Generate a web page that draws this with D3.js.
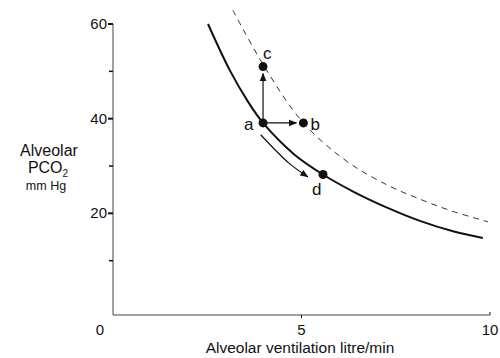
<!DOCTYPE html>
<html>
<head>
<meta charset="utf-8">
<script src="https://cdn.jsdelivr.net/npm/d3@7"></script>
<style>
  body { margin: 0; background: #fff; }
  text { font-family: "Liberation Sans", Arial, sans-serif; fill: #111; }
</style>
</head>
<body>
<div id="chart"></div>
<script>
// values (ventilation litre/min, PCO2 mm Hg)
const solidVent = [2.52, 3.10, 3.58, 3.98, 4.8, 5.57, 6.37, 7.27, 8.14, 9.02, 9.81];
const solidPco2 = [60, 50.2, 43.6, 39.1, 32.5, 28.2, 24.6, 21.2, 18.4, 16.2, 14.8];
const dashVent = [3.18, 4.0, 5.04, 6.2, 7.27, 8.14, 9.02, 9.95];
const dashPco2 = [62.9, 51.2, 39.2, 31.0, 26.0, 23.0, 20.4, 18.2];
const pointNames = ["a", "b", "c", "d"];
const pointVent = [3.98, 5.05, 3.98, 5.57];
const pointPco2 = [39.1, 39.1, 51.0, 28.2];
const xTicks = [5, 10];
const yTicks = [20, 40, 60];
const yMinor = [10, 30, 50];

const width = 500, height = 358;
const svg = d3.select("#chart").append("svg")
  .attr("width", width).attr("height", height);

const x = d3.scaleLinear().domain([0, 10]).range([113, 490]);
const y = d3.scaleLinear().domain([0, 60]).range([308, 24]);
const axisY = 315;

svg.append("defs").append("marker")
  .attr("id", "arrow").attr("viewBox", "0 0 10 10")
  .attr("refX", 9).attr("refY", 5)
  .attr("markerWidth", 7).attr("markerHeight", 7)
  .attr("orient", "auto-start-reverse")
  .append("path").attr("d", "M0,1 L10,5 L0,9 Z").attr("fill", "#111");

// axes
svg.append("line").attr("x1", x(0)).attr("x2", x(0))
  .attr("y1", y(60)).attr("y2", axisY)
  .attr("stroke", "#444").attr("stroke-width", 1);
svg.append("line").attr("x1", x(0)).attr("x2", x(10))
  .attr("y1", axisY).attr("y2", axisY)
  .attr("stroke", "#444").attr("stroke-width", 1);

svg.selectAll(".ytick").data(yTicks).join("line")
  .attr("x1", x(0) - 5).attr("x2", x(0))
  .attr("y1", d => y(d)).attr("y2", d => y(d))
  .attr("stroke", "#111").attr("stroke-width", 2);
svg.selectAll(".yminor").data(yMinor).join("line")
  .attr("x1", x(0) - 4).attr("x2", x(0))
  .attr("y1", d => y(d)).attr("y2", d => y(d))
  .attr("stroke", "#111").attr("stroke-width", 1.5);
svg.selectAll(".ylab").data(yTicks).join("text")
  .attr("x", x(0) - 6).attr("y", d => y(d) + 5)
  .attr("text-anchor", "end").attr("font-size", 15)
  .text(d => d);

svg.selectAll(".xtick").data(xTicks).join("line")
  .attr("x1", d => x(d)).attr("x2", d => x(d))
  .attr("y1", d => d === 10 ? axisY - 3 : axisY).attr("y2", d => d === 10 ? axisY : axisY + 3)
  .attr("stroke", "#111").attr("stroke-width", 1);
svg.selectAll(".xlab").data(xTicks).join("text")
  .attr("x", d => x(d)).attr("y", 335)
  .attr("text-anchor", "middle").attr("font-size", 15)
  .text(d => d);
svg.append("text").attr("x", x(0) - 13).attr("y", 335)
  .attr("text-anchor", "middle").attr("font-size", 15).text("0");

svg.append("text").attr("x", 300).attr("y", 353)
  .attr("text-anchor", "middle").attr("font-size", 15.5)
  .text("Alveolar ventilation litre/min");

const yl = svg.append("g").attr("text-anchor", "middle");
yl.append("text").attr("x", 49).attr("y", 156).attr("font-size", 16).text("Alveolar");
const pco = yl.append("text").attr("x", 48).attr("y", 173).attr("font-size", 16);
pco.append("tspan").text("PCO");
pco.append("tspan").attr("font-size", 10).attr("dy", 4).text("2");
yl.append("text").attr("x", 46).attr("y", 190).attr("font-size", 12.5).text("mm Hg");

// curves
const line = d3.line().curve(d3.curveCatmullRom.alpha(0.5))
  .x(d => x(d[0])).y(d => y(d[1]));

svg.append("path")
  .attr("d", line(dashVent.map((v, i) => [v, dashPco2[i]])))
  .attr("fill", "none").attr("stroke", "#333").attr("stroke-width", 1)
  .attr("stroke-dasharray", "6,5");

svg.append("path")
  .attr("d", line(solidVent.map((v, i) => [v, solidPco2[i]])))
  .attr("fill", "none").attr("stroke", "#111").attr("stroke-width", 2);

// arrows from a
const a = [pointVent[0], pointPco2[0]];
svg.append("line")
  .attr("x1", x(a[0])).attr("y1", y(a[1]))
  .attr("x2", x(pointVent[2])).attr("y2", y(pointPco2[2]) + 7)
  .attr("stroke", "#111").attr("stroke-width", 1.2).attr("marker-end", "url(#arrow)");
svg.append("line")
  .attr("x1", x(a[0])).attr("y1", y(a[1]))
  .attr("x2", x(pointVent[1]) - 7).attr("y2", y(pointPco2[1]))
  .attr("stroke", "#111").attr("stroke-width", 1.2).attr("marker-end", "url(#arrow)");

// curved arrow a -> d, drawn parallel to and just below the solid curve
const curveAD = d3.line().curve(d3.curveCatmullRom.alpha(0.5))
  .x(d => x(d[0]) - 5).y(d => y(d[1]) + 9);
const adPts = [[4.05, 38.5], [4.8, 32.5], [5.3, 29.6]];
svg.append("path")
  .attr("d", curveAD(adPts))
  .attr("fill", "none").attr("stroke", "#111").attr("stroke-width", 1.2)
  .attr("marker-end", "url(#arrow)");

// points and labels
svg.selectAll(".pt").data(pointNames).join("circle")
  .attr("cx", (d, i) => x(pointVent[i])).attr("cy", (d, i) => y(pointPco2[i]))
  .attr("r", 4.5).attr("fill", "#111");

const labOff = { a: [-19, 7], b: [7, 7], c: [0, -8], d: [-11, 20] };
svg.selectAll(".plab").data(pointNames).join("text")
  .attr("x", (d, i) => x(pointVent[i]) + labOff[d][0])
  .attr("y", (d, i) => y(pointPco2[i]) + labOff[d][1])
  .attr("font-size", 17).attr("text-anchor", "start")
  .text(d => d);
</script>
</body>
</html>
